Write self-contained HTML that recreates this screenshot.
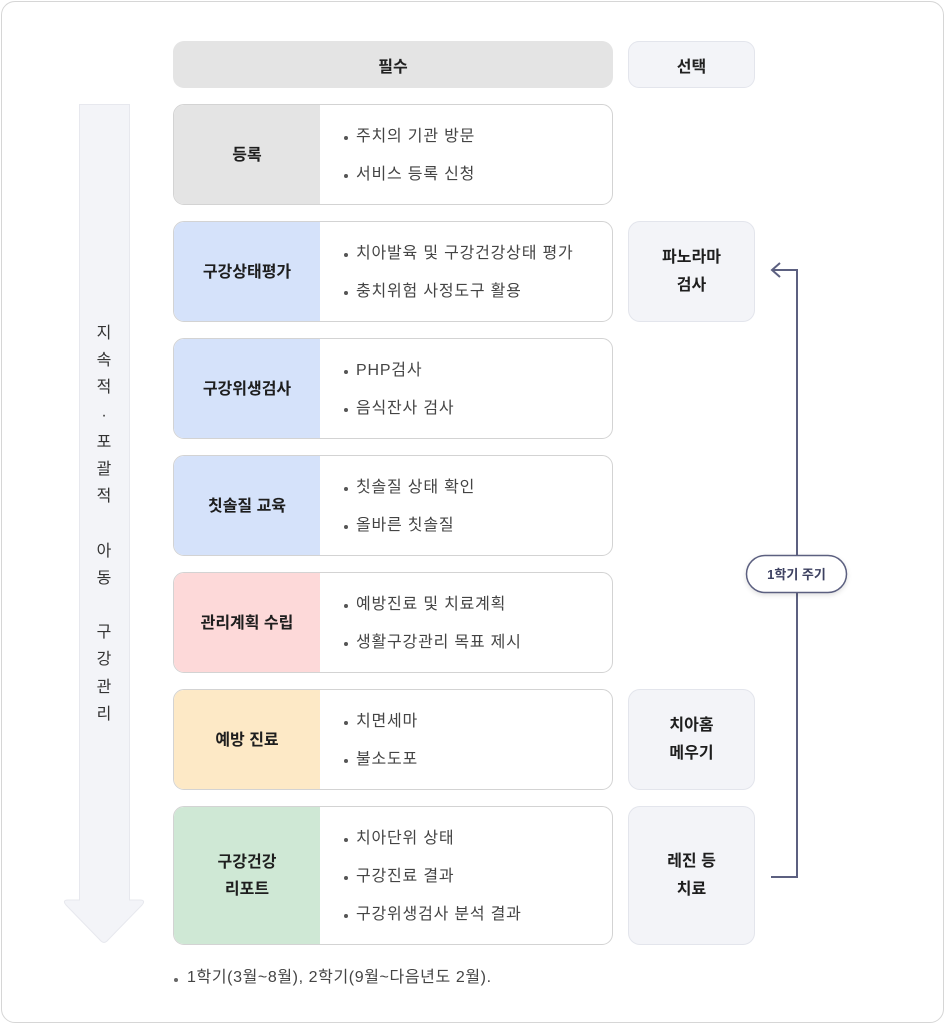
<!DOCTYPE html>
<html><head><meta charset="utf-8">
<style>
*{margin:0;padding:0;box-sizing:border-box}
html,body{width:945px;height:1024px;background:#fff;overflow:hidden}
body{position:relative;font-family:"Liberation Sans","Noto Sans CJK KR",sans-serif;color:#222}
.frame{position:absolute;left:1px;top:1px;width:943px;height:1022px;border:1.5px solid #d6d6d6;border-radius:14px;background:#fff}
.hdr{position:absolute;top:41px;height:47px;border-radius:11px;display:flex;align-items:center;justify-content:center;font-weight:bold;font-size:16px;color:#222}
.row{position:absolute;left:173px;width:440px;border:1.5px solid #d3d3d3;border-radius:11px;overflow:hidden;background:#fff}
.lab{position:absolute;left:0;top:0;bottom:0;width:146px;display:flex;align-items:center;justify-content:center;text-align:center;font-weight:bold;font-size:16px;line-height:27px;color:#1e1e1e;padding-top:1px}
.items{position:absolute;left:168px;top:3px;bottom:0;display:flex;flex-direction:column;justify-content:center;font-size:16px;letter-spacing:0.8px;color:#444;line-height:38px;white-space:nowrap}
.items span{position:relative;padding-left:14px}
.items span:before{content:"";position:absolute;left:2px;top:18px;width:4px;height:4px;border-radius:50%;background:#555}
.opt{position:absolute;left:628px;width:127px;background:#f3f4f8;border:1.5px solid #e3e5ec;border-radius:12px;display:flex;align-items:center;justify-content:center;text-align:center;font-weight:bold;font-size:16px;line-height:28px;color:#1e1e1e;padding-top:1px}
.vt{position:absolute;left:90px;width:28px;top:320px;text-align:center;font-size:16px;line-height:27.2px;color:#333}
.note{position:absolute;left:173px;top:963px;font-size:16px;letter-spacing:0.6px;color:#444;white-space:nowrap}
.note span{position:relative;padding-left:14px}
.note span:before{content:"";position:absolute;left:1px;top:9px;width:4px;height:4px;border-radius:50%;background:#666}
</style></head><body>
<div class="frame"></div>

<svg style="position:absolute;left:0;top:0" width="945" height="1024">
  <path d="M79.5,104.5 H129.5 V900 H140 Q146,900 142,905 L107,941 Q104,944 101,941 L66,905 Q62,900 68,900 H79.5 Z" fill="#f3f4f8" stroke="#e7e8ee" stroke-width="1"/>
  <path d="M771,877 H797 V270 H773" fill="none" stroke="#5c6080" stroke-width="2"/>
  <path d="M780,263 L772,270 L780,277" fill="none" stroke="#5c6080" stroke-width="2"/>
  <defs><filter id="sh" x="-20%" y="-40%" width="140%" height="180%"><feDropShadow dx="0" dy="2" stdDeviation="2.5" flood-color="#000" flood-opacity="0.12"/></filter></defs>
  <rect x="746.5" y="555.5" width="100" height="37" rx="18.5" fill="#fff" stroke="#5c6080" stroke-width="1.5" filter="url(#sh)"/>
  <text x="796.5" y="579" text-anchor="middle" font-family="Liberation Sans, Noto Sans CJK KR, sans-serif" font-size="13" font-weight="bold" fill="#3c4060">1학기 주기</text>
</svg>

<div class="vt">지<br>속<br>적<br>·<br>포<br>괄<br>적<br>&nbsp;<br>아<br>동<br>&nbsp;<br>구<br>강<br>관<br>리</div>

<div class="hdr" style="left:173px;width:440px;background:#e4e4e4">필수</div>
<div class="hdr" style="left:628px;width:127px;background:#f3f4f8;border:1.5px solid #e3e5ec">선택</div>

<div class="row" style="top:104px;height:101px"><div class="lab" style="background:#e4e4e4">등록</div><div class="items"><span>주치의 기관 방문</span><span>서비스 등록 신청</span></div></div>
<div class="row" style="top:221px;height:101px"><div class="lab" style="background:#d5e2fa">구강상태평가</div><div class="items"><span>치아발육 및 구강건강상태 평가</span><span>충치위험 사정도구 활용</span></div></div>
<div class="row" style="top:338px;height:101px"><div class="lab" style="background:#d5e2fa">구강위생검사</div><div class="items"><span>PHP검사</span><span>음식잔사 검사</span></div></div>
<div class="row" style="top:455px;height:101px"><div class="lab" style="background:#d5e2fa">칫솔질 교육</div><div class="items"><span>칫솔질 상태 확인</span><span>올바른 칫솔질</span></div></div>
<div class="row" style="top:572px;height:101px"><div class="lab" style="background:#fdd9d9">관리계획 수립</div><div class="items"><span>예방진료 및 치료계획</span><span>생활구강관리 목표 제시</span></div></div>
<div class="row" style="top:689px;height:101px"><div class="lab" style="background:#fde9c6">예방 진료</div><div class="items"><span>치면세마</span><span>불소도포</span></div></div>
<div class="row" style="top:806px;height:139px"><div class="lab" style="background:#cfe8d5">구강건강<br>리포트</div><div class="items"><span>치아단위 상태</span><span>구강진료 결과</span><span>구강위생검사 분석 결과</span></div></div>

<div class="opt" style="top:221px;height:101px">파노라마<br>검사</div>
<div class="opt" style="top:689px;height:101px">치아홈<br>메우기</div>
<div class="opt" style="top:806px;height:139px">레진 등<br>치료</div>

<div class="note"><span>1학기(3월~8월), 2학기(9월~다음년도 2월).</span></div>
</body></html>
